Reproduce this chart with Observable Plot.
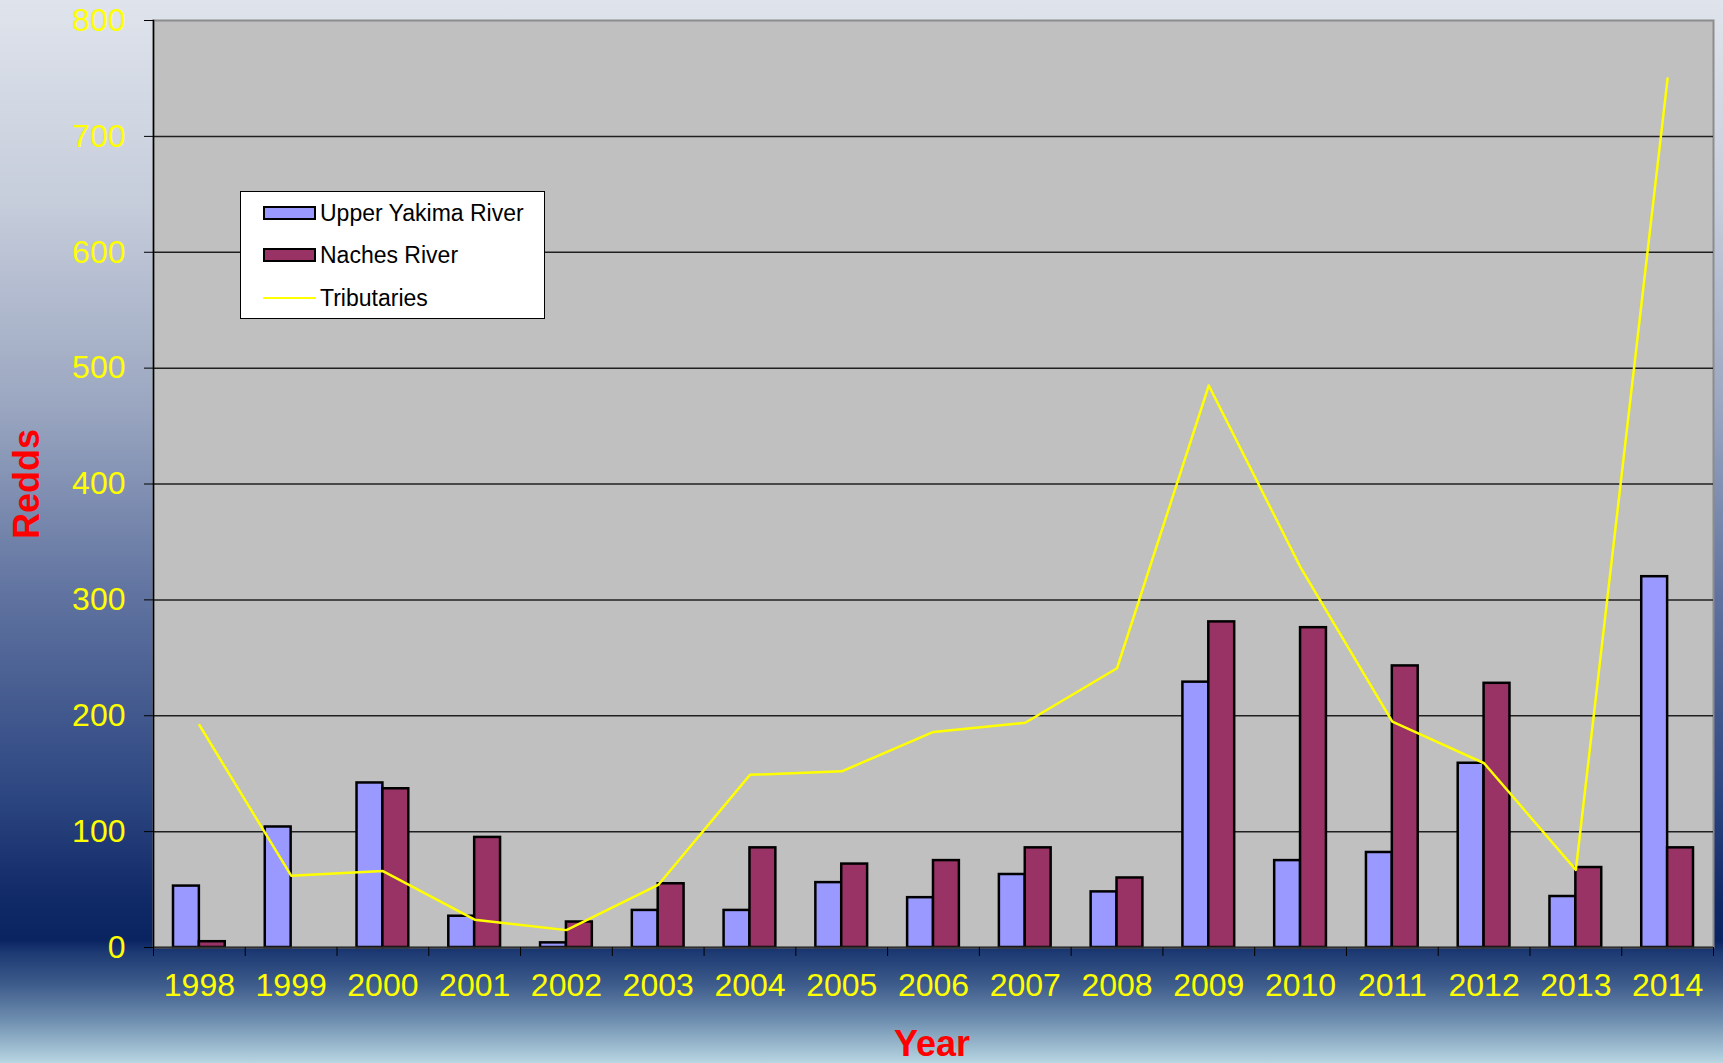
<!DOCTYPE html>
<html>
<head>
<meta charset="utf-8">
<script src="https://cdn.jsdelivr.net/npm/d3@7"></script>
<script src="https://cdn.jsdelivr.net/npm/@observablehq/plot@0.6"></script>
<style>
  html, body { margin: 0; padding: 0; }
  body { width: 1723px; height: 1063px; overflow: hidden; font-family: "Liberation Sans", Arial, sans-serif; }
  #wrap {
    position: relative; width: 1723px; height: 1063px;
    background: linear-gradient(to bottom,
      #dfe4ec 0%, #c6cddb 19%, #9ba7c1 38%, #6073a0 56%, #2c4681 75%,
      #0f2866 85%, #0a2462 88.5%, #1d3a73 89.6%, #3c5a8a 92.5%, #6f8fb0 96%, #b8d6e2 100%);
  }
  #chart { position: absolute; left: 0; top: 0; }
  .ttl { position: absolute; color: #ff0000; font-weight: bold; font-size: 36px; white-space: nowrap; line-height: 1; }
  #legend {
    position: absolute; left: 240px; top: 191px; width: 305px; height: 128px;
    background: #fff; border: 1.5px solid #000; box-sizing: border-box;
  }
  .row { position: absolute; left: 22px; height: 24px; display: flex; align-items: center; font-size: 23px; color: #000; }
  .sw { width: 49px; height: 10px; border: 2px solid #000; margin-right: 4px; }
  .ln { width: 53px; height: 0; border-top: 2.5px solid #ffff00; margin-right: 4px; }
</style>
</head>
<body>
<div id="wrap">
  <div id="chart"></div>
  <div class="ttl" id="ylab" style="left:27px; top:484px; transform: translate(-50%,-50%) rotate(-90deg);">Redds</div>
  <div class="ttl" id="xlab" style="left:932px; top:1044px; transform: translate(-50%,-50%);">Year</div>
  <div id="legend"></div>
</div>
<script>
// ---- data ----
const years = ["1998","1999","2000","2001","2002","2003","2004","2005","2006","2007","2008","2009","2010","2011","2012","2013","2014"];
const upperYakima = [53, 104, 142, 27, 4, 32, 32, 56, 43, 63, 48, 229, 75, 82, 159, 44, 320];
const nachesRiver = [5, null, 137, 95, 22, 55, 86, 72, 75, 86, 60, 281, 276, 243, 228, 69, 86];
const tributaries = [192, 62, 66, 24, 15, 54, 149, 152, 186, 194, 241, 485, 328, 195, 159, 67, 750];
const yTicks = [0, 100, 200, 300, 400, 500, 600, 700, 800];
const seriesNames = ["Upper Yakima River", "Naches River", "Tributaries"];
const seriesColors = ["#9999ff", "#993366", "#ffff00"];

const table = years.map((y, i) => ({year: y, upper: upperYakima[i], naches: nachesRiver[i], tribs: tributaries[i]}));

const W = 1723, H = 1063;
const mL = 153, mR = 10, mT = 20, mB = 116;
const bw = (W - mL - mR) / years.length;
const outer = 20;

const chart = Plot.plot({
  width: W, height: H,
  marginLeft: mL, marginRight: mR, marginTop: mT, marginBottom: mB,
  style: {background: "transparent", fontFamily: "'Liberation Sans', Arial, sans-serif", overflow: "visible"},
  x: {domain: years, type: "band", padding: 0, round: false, label: null},
  y: {domain: [0, 800], label: null},
  marks: [
    Plot.frame({fill: "#c0c0c0", stroke: "#8c8c8c", strokeWidth: 2}),
    Plot.ruleY(yTicks.filter(t => t > 0 && t < 800), {stroke: "#202020", strokeWidth: 1.5}),
    Plot.barY(table.filter(d => d.upper != null), {x: "year", y: "upper", fill: seriesColors[0], stroke: "#000", strokeWidth: 2.5,
      insetLeft: outer, insetRight: bw / 2}),
    Plot.barY(table.filter(d => d.naches != null), {x: "year", y: "naches", fill: seriesColors[1], stroke: "#000", strokeWidth: 2.5,
      insetLeft: bw / 2, insetRight: outer}),
    Plot.line(table, {x: "year", y: "tribs", stroke: seriesColors[2], strokeWidth: 2.5}),
    Plot.ruleY([0], {stroke: "#303030", strokeWidth: 2}),
    Plot.frame({anchor: "left", stroke: "#000", strokeWidth: 1.5}),
    Plot.axisY({ticks: yTicks, tickSize: 9, tickPadding: 19, fontSize: 32, stroke: "#000", fill: "#ffff00", tickFormat: d => String(d)}),
    Plot.axisX({tickSize: 0, tickPadding: 26, fontSize: 32, fill: "#ffff00"}),
    Plot.axisX({tickSize: 9, tickFormat: () => "", stroke: "#000", dx: -bw / 2}),
    Plot.axisX({ticks: [years[years.length - 1]], tickSize: 9, tickFormat: () => "", stroke: "#000", dx: bw / 2})
  ]
});
document.getElementById("chart").appendChild(chart);

// ---- legend ----
const legend = document.getElementById("legend");
const rowTops = [9, 51, 94];
seriesNames.forEach((name, i) => {
  const row = document.createElement("div");
  row.className = "row";
  row.style.top = rowTops[i] + "px";
  const sw = document.createElement("div");
  if (i < 2) { sw.className = "sw"; sw.style.background = seriesColors[i]; }
  else { sw.className = "ln"; }
  row.appendChild(sw);
  const t = document.createElement("span");
  t.textContent = name;
  row.appendChild(t);
  legend.appendChild(row);
});
</script>
</body>
</html>
